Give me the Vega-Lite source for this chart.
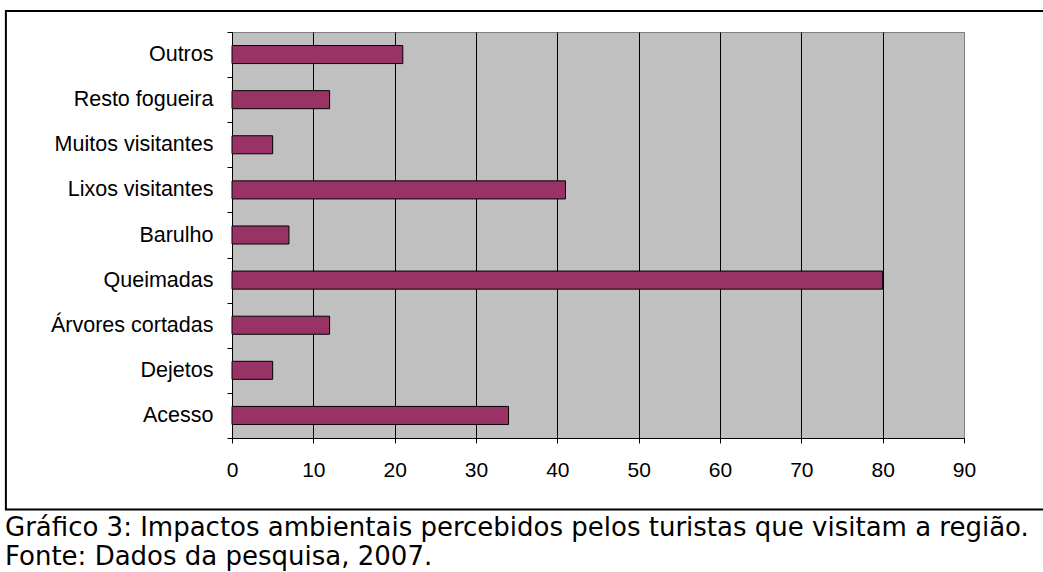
{
  "$schema": "https://vega.github.io/schema/vega-lite/v6.json",
  "width": 732,
  "height": 406,
  "autosize": {"type": "none"},
  "padding": {"left": 232, "top": 32, "right": 79, "bottom": 134},
  "background": "white",
  "config": {
    "font": "Liberation Sans",
    "view": {"fill": "#C0C0C0", "stroke": "#808080", "strokeWidth": 1}
  },
  "title": {
    "text": ["Gráfico 3: Impactos ambientais percebidos pelos turistas que visitam a região.", "Fonte: Dados da pesquisa, 2007."],
    "orient": "bottom",
    "anchor": "start",
    "frame": "group",
    "dx": -227,
    "offset": 5,
    "fontSize": 26,
    "fontWeight": "normal",
    "lineHeight": 29,
    "color": "black",
    "font": "DejaVu Sans"
  },
  "layer": [
    {
      "data": {
        "values": [
          {"impacto": "Outros", "valor": 21},
          {"impacto": "Resto fogueira", "valor": 12},
          {"impacto": "Muitos visitantes", "valor": 5},
          {"impacto": "Lixos visitantes", "valor": 41},
          {"impacto": "Barulho", "valor": 7},
          {"impacto": "Queimadas", "valor": 80},
          {"impacto": "Árvores cortadas", "valor": 12},
          {"impacto": "Dejetos", "valor": 5},
          {"impacto": "Acesso", "valor": 34}
        ]
      },
      "mark": {"type": "bar", "color": "#993366", "stroke": "black", "strokeWidth": 1, "height": {"band": 0.4}},
      "encoding": {
        "y": {
          "field": "impacto",
          "type": "nominal",
          "sort": null,
          "scale": {"paddingInner": 0, "paddingOuter": 0},
          "axis": {
            "title": null,
            "domainColor": "black",
            "ticks": true,
            "tickColor": "black",
            "tickSize": 5,
            "tickWidth": 1,
            "tickBand": "extent",
            "labelFontSize": 21.5,
            "labelColor": "black",
            "labelPadding": 14,
            "labelLimit": 300,
            "grid": false
          }
        },
        "x": {
          "field": "valor",
          "type": "quantitative",
          "scale": {"domain": [0, 90], "nice": false},
          "axis": {
            "title": null,
            "values": [0, 10, 20, 30, 40, 50, 60, 70, 80, 90],
            "labelFlush": false,
            "grid": true,
            "gridColor": {"condition": {"test": "datum.value === 90", "value": "#808080"}, "value": "black"},
            "gridOpacity": 1,
            "domainColor": "black",
            "tickColor": "black",
            "tickSize": 5,
            "labelFontSize": 21,
            "labelColor": "black",
            "labelPadding": 16
          }
        }
      }
    },
    {
      "data": {"values": [{}]},
      "mark": {"type": "rect", "filled": false, "stroke": "black", "strokeWidth": 2, "clip": false},
      "encoding": {
        "x": {"datum": -27.8, "type": "quantitative", "scale": {"domain": [0, 90], "nice": false}},
        "x2": {"datum": 100.6},
        "y": {"datum": 1.0517, "type": "quantitative", "scale": {"domain": [0, 1], "nice": false, "zero": false}, "axis": null},
        "y2": {"datum": -0.176}
      }
    }
  ],
  "resolve": {"scale": {"y": "independent"}, "axis": {"y": "independent"}}
}
